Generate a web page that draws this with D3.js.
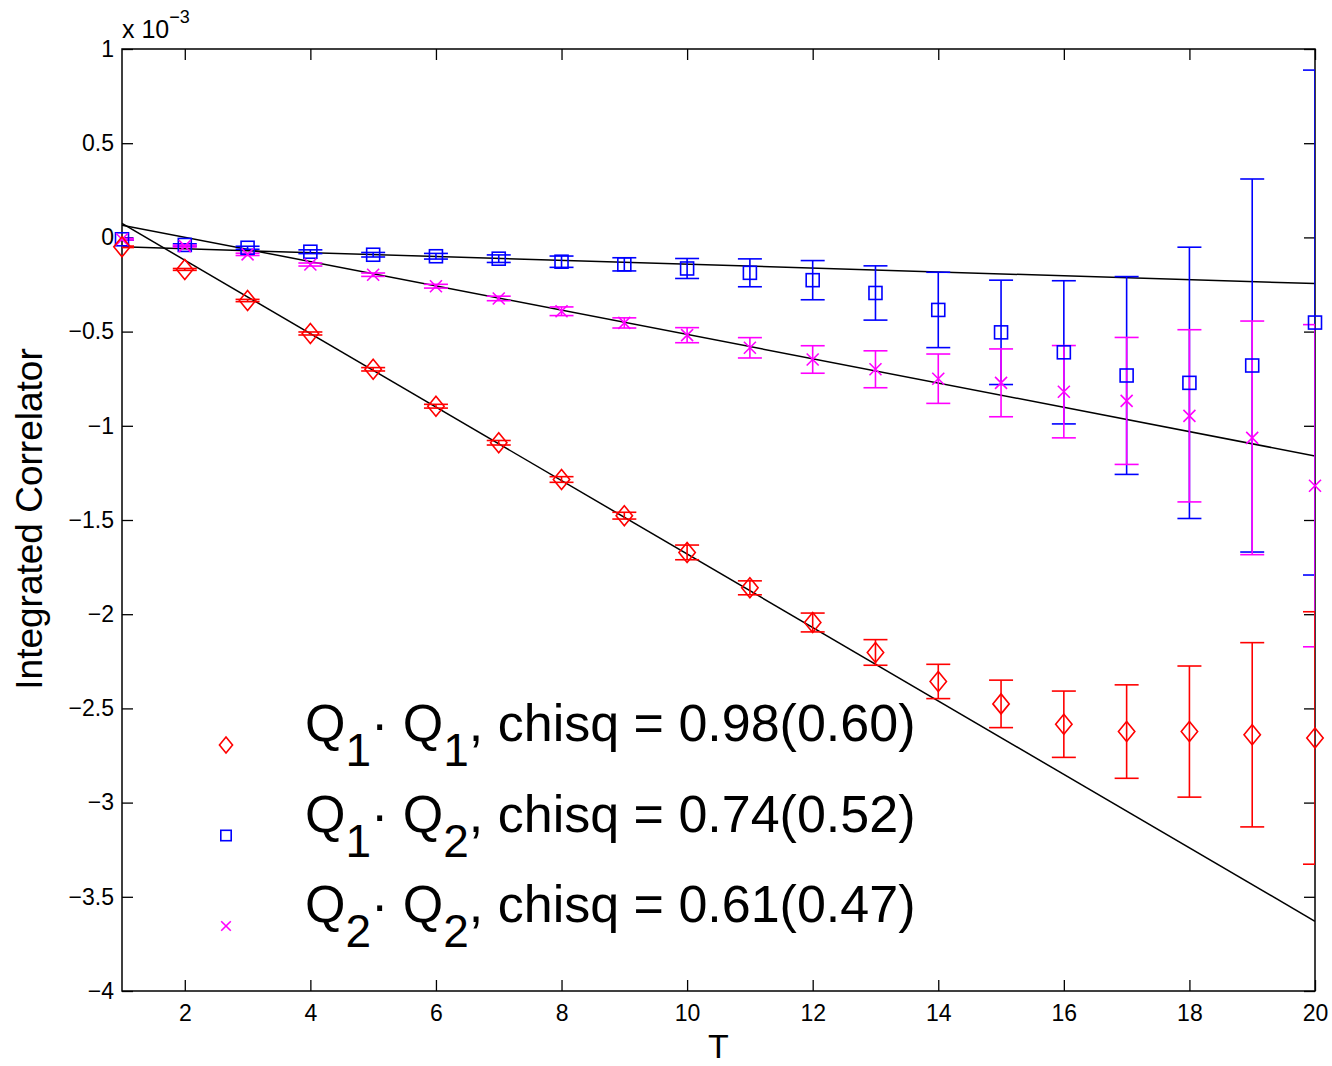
<!DOCTYPE html>
<meta charset="utf-8">
<style>
body { margin: 0; background: #fff; }
text { font-family: "Liberation Sans", Arial, sans-serif; fill: #000; }
.tick text { font-size: 23px; }
</style>
<svg width="1332" height="1066"></svg>
<script src="https://d3js.org/d3.v7.min.js"></script>
<script>
// values in units of 1e-3
var T = d3.range(1, 21);
var q11 = [-0.05,-0.17,-0.335,-0.51,-0.70,-0.896,-1.09,-1.285,-1.477,-1.672,-1.86,-2.044,-2.203,-2.357,-2.476,-2.584,-2.623,-2.623,-2.64,-2.657];
var q11Err = [0.004,0.005,0.006,0.008,0.009,0.01,0.012,0.015,0.018,0.039,0.037,0.05,0.068,0.091,0.126,0.176,0.248,0.348,0.489,0.67];
var q12 = [-0.01,-0.04,-0.055,-0.076,-0.092,-0.10,-0.113,-0.129,-0.143,-0.165,-0.188,-0.227,-0.295,-0.385,-0.504,-0.61,-0.733,-0.772,-0.68,-0.452];
var q12Err = [0.005,0.006,0.008,0.01,0.012,0.015,0.02,0.03,0.035,0.053,0.074,0.104,0.144,0.2,0.277,0.38,0.525,0.72,0.99,1.34];
var q22 = [-0.01,-0.046,-0.09,-0.144,-0.198,-0.259,-0.324,-0.392,-0.454,-0.519,-0.586,-0.648,-0.70,-0.75,-0.772,-0.819,-0.868,-0.947,-1.064,-1.318];
var q22Err = [0.004,0.005,0.006,0.008,0.009,0.01,0.012,0.023,0.027,0.04,0.054,0.073,0.098,0.131,0.18,0.245,0.337,0.457,0.62,0.855];
// straight-line fits, value at T=1 and T=20
var fitT = [1, 20];
var fitQ11 = [0.074, -3.63];
var fitQ12 = [-0.05, -0.245];
var fitQ22 = [0.065, -1.16];

var xTicks = [2,4,6,8,10,12,14,16,18,20];
var yTicks = [1,0.5,0,-0.5,-1,-1.5,-2,-2.5,-3,-3.5,-4];
var legendSub = [["1","1"],["1","2"],["2","2"]];
var legendRest = [", chisq = 0.98(0.60)", ", chisq = 0.74(0.52)", ", chisq = 0.61(0.47)"];

var padL = 122, padR = 1315, padT = 49, padB = 991;
var svg = d3.select("svg");

var x = d3.scaleLinear().domain([1, 20]).range([padL, padR]);
var y = d3.scaleLinear().domain([-4, 1]).range([padB, padT]);

svg.append("clipPath").attr("id", "plotclip")
  .append("rect").attr("x", padL).attr("y", padT)
  .attr("width", padR - padL).attr("height", padB - padT);

// axes, ticks pointing inward (matlab box)
function styleAxis(g) {
  g.select(".domain").remove();
  g.selectAll(".tick line").attr("stroke", "#000").attr("stroke-width", 1.3);
}
svg.append("g").attr("transform", "translate(0," + padB + ")")
  .call(d3.axisBottom(x).tickValues(xTicks).tickSize(-11).tickPadding(14).tickFormat(d3.format("d")))
  .call(styleAxis);
svg.append("g").attr("transform", "translate(0," + padT + ")")
  .call(d3.axisTop(x).tickValues(xTicks).tickSize(-11).tickFormat(""))
  .call(styleAxis);
svg.append("g").attr("transform", "translate(" + padL + ",0)")
  .call(d3.axisLeft(y).tickValues(yTicks).tickSize(-11).tickPadding(8).tickFormat(function(d){ return String(d).replace("-", "\u2212"); }))
  .call(styleAxis);
svg.append("g").attr("transform", "translate(" + padR + ",0)")
  .call(d3.axisRight(y).tickValues(yTicks).tickSize(-11).tickFormat(""))
  .call(styleAxis);

svg.append("rect").attr("x", padL).attr("y", padT)
  .attr("width", padR - padL).attr("height", padB - padT)
  .attr("fill", "none").attr("stroke", "#000").attr("stroke-width", 1.5);

// fit lines
var plot = svg.append("g").attr("clip-path", "url(#plotclip)");
[fitQ11, fitQ12, fitQ22].forEach(function(f) {
  plot.append("line")
    .attr("x1", x(fitT[0])).attr("y1", y(f[0]))
    .attr("x2", x(fitT[1])).attr("y2", y(f[1]))
    .attr("stroke", "#000").attr("stroke-width", 1.5);
});

var series = [
  {vals: q12, err: q12Err, color: "#0000ff", sym: "square"},
  {vals: q22, err: q22Err, color: "#ff00ff", sym: "cross"},
  {vals: q11, err: q11Err, color: "#ff0000", sym: "diamond"}
];

function marker(g, sym, color, s) {
  if (sym === "diamond") {
    g.append("path").attr("d", "M0," + (-s) + "L" + (s*0.82) + ",0L0," + s + "L" + (-s*0.82) + ",0Z")
      .attr("fill", "none").attr("stroke", color).attr("stroke-width", 1.6);
  } else if (sym === "square") {
    g.append("rect").attr("x", -s*0.65).attr("y", -s*0.65).attr("width", s*1.3).attr("height", s*1.3)
      .attr("fill", "none").attr("stroke", color).attr("stroke-width", 1.6);
  } else {
    var c = s * 0.6;
    g.append("path").attr("d", "M" + (-c) + "," + (-c) + "L" + c + "," + c + "M" + (-c) + "," + c + "L" + c + "," + (-c))
      .attr("fill", "none").attr("stroke", color).attr("stroke-width", 1.6);
  }
}

var capW = 12;
series.forEach(function(s) {
  var eg = plot.append("g").attr("stroke", s.color).attr("stroke-width", 1.6);
  T.forEach(function(t, i) {
    var cx = x(t), lo = y(s.vals[i] - s.err[i]), hi = y(s.vals[i] + s.err[i]);
    eg.append("line").attr("x1", cx).attr("x2", cx).attr("y1", lo).attr("y2", hi);
    eg.append("line").attr("x1", cx - capW).attr("x2", cx + capW).attr("y1", lo).attr("y2", lo);
    eg.append("line").attr("x1", cx - capW).attr("x2", cx + capW).attr("y1", hi).attr("y2", hi);
  });
  T.forEach(function(t, i) {
    var mg = svg.append("g").attr("transform", "translate(" + x(t) + "," + y(s.vals[i]) + ")");
    marker(mg, s.sym, s.color, 10);
  });
});

// legend
var legendSyms = [["diamond","#ff0000"],["square","#0000ff"],["cross","#ff00ff"]];
legendSyms.forEach(function(ls, i) {
  var ly = 745 + i * 90.5;
  var mg = svg.append("g").attr("transform", "translate(226," + ly + ")");
  marker(mg, ls[0], ls[1], 8);
  var t = svg.append("text").attr("x", 305).attr("y", ly - 4).style("font-size", "52px");
  t.append("tspan").text("Q");
  t.append("tspan").attr("dy", 25).style("font-size", "46px").text(legendSub[i][0]);
  t.append("tspan").attr("dy", -25).text("\u00b7 Q");
  t.append("tspan").attr("dy", 25).style("font-size", "46px").text(legendSub[i][1]);
  t.append("tspan").attr("dy", -25).text(legendRest[i]);
});

// labels
svg.append("text").attr("x", (padL + padR) / 2).attr("y", 1058)
  .attr("text-anchor", "middle").style("font-size", "34px").text("T");
svg.append("text").attr("transform", "translate(42," + 519 + ") rotate(-90)")
  .attr("text-anchor", "middle").style("font-size", "37px").text("Integrated Correlator");
var ex = svg.append("text").attr("x", 122).attr("y", 38).style("font-size", "25px");
ex.append("tspan").text("x 10");
ex.append("tspan").attr("dy", -15).style("font-size", "18px").text("\u22123");
</script>
